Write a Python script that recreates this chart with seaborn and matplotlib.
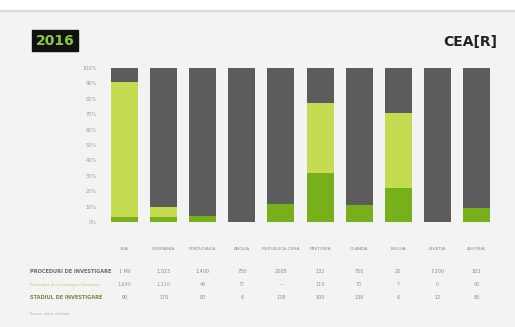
import matplotlib
matplotlib.use("Agg")
import matplotlib.pyplot as plt
import seaborn as sns
import pandas as pd
from matplotlib.patches import Rectangle

sns.set_theme(style="white")
plt.rcParams['font.family'] = ['DejaVu Sans']

categories = ["SUA", "GERMANIA", "PORTUGALIA", "ANGLIA", "REPUBLICA CEHA", "PRETORIA",
              "OLANDA", "BELGIA", "ELVETIA", "AUSTRIA"]
dark_green = [3, 3, 4, 0, 12, 32, 11, 22, 0, 9]
light_green = [88, 7, 0, 0, 0, 45, 0, 49, 0, 0]
ticks = [0, 10, 20, 30, 40, 50, 60, 70, 80, 90, 100]
tick_labels = ["0%", "10%", "20%", "30%", "40%", "50%", "60%", "70%", "80%", "90%", "100%"]
row_labels = ["PROCEDURI DE INVESTIGARE", "Proceduri de investigare finalizate", "STADIUL DE INVESTIGARE"]
row1 = ["1 Mil", "1.023", "1.400", "750", "2008", "132", "750", "20", "7.200", "103"]
row2 = ["1.640", "1.110", "49", "77", "—", "118", "70", "7", "0", "40"]
row3 = ["90", "170", "80", "6", "128", "100", "139", "6", "12", "85"]

df = pd.DataFrame({"cat": categories, "dark": dark_green, "light": light_green})
df["total"] = 100
df["mid"] = df["dark"] + df["light"]

GRAY = "#5c5c5c"
LIGHT = "#c3dc52"
DARK = "#78b01c"

fig = plt.figure(figsize=(5.15, 3.27), dpi=100)
fig.patch.set_facecolor("#f3f3f3")
fig.add_artist(Rectangle((0, 0.97), 1, 0.03, transform=fig.transFigure, color="white", zorder=0))
fig.add_artist(Rectangle((0, 0.966), 1, 0.004, transform=fig.transFigure, color="#dadada", zorder=0))

ax = fig.add_axes([0.204, 0.321, 0.759, 0.471])
ax.set_facecolor("none")
for col, colr in (("total", GRAY), ("mid", LIGHT), ("dark", DARK)):
    sns.barplot(data=df, x="cat", y=col, color=colr, width=0.69, ax=ax,
                saturation=1, linewidth=0, edgecolor=colr)
ax.set_ylim(0, 100)
ax.set_xlim(-0.5, 9.5)
ax.set_yticks(ticks)
ax.set_yticklabels(tick_labels, fontsize=3.6, color="#9a9a9a")
ax.set_xticks([])
ax.set_xlabel("")
ax.set_ylabel("")
ax.tick_params(axis="y", length=0, pad=6)
for s in ax.spines.values():
    s.set_visible(False)

fig.text(0.107, 0.876, "2016", fontsize=10, color="#8dc63f", fontweight="bold",
         ha="center", va="center",
         bbox=dict(boxstyle="square,pad=0.25", fc="#111111", ec="#111111"))
fig.text(0.965, 0.872, "CEA[R]", fontsize=10, color="#222222", fontweight="bold",
         ha="right", va="center")

ypix = {"cat": 250, "r1": 273, "r2": 286, "r3": 299}
def fy(p):
    return 1 - p / 327

for i, c in enumerate(categories):
    xf = fig.transFigure.inverted().transform(ax.transData.transform((i, 0)))[0]
    fig.text(xf, fy(ypix["cat"]), c, fontsize=3.2, color="#8a8a8a", ha="center", va="baseline")
    fig.text(xf, fy(ypix["r1"]), row1[i], fontsize=3.5, color="#8a8a8a", ha="center", va="baseline")
    fig.text(xf, fy(ypix["r2"]), row2[i], fontsize=3.5, color="#9a9a9a", ha="center", va="baseline")
    fig.text(xf, fy(ypix["r3"]), row3[i], fontsize=3.5, color="#8a8a8a", ha="center", va="baseline")

fig.text(0.058, fy(ypix["r1"]), row_labels[0], fontsize=3.6, color="#6a6a6a", fontweight="bold", va="baseline")
fig.text(0.058, fy(ypix["r2"]), row_labels[1], fontsize=3.0, color="#b5cf70", va="baseline")
fig.text(0.058, fy(ypix["r3"]), row_labels[2], fontsize=3.6, color="#6f8a40", fontweight="bold", va="baseline")
fig.text(0.058, fy(315), "Sursa: date oficiale", fontsize=3.0, color="#b0b0b0", va="baseline")

fig.savefig("out.png", dpi=100, facecolor=fig.get_facecolor())
